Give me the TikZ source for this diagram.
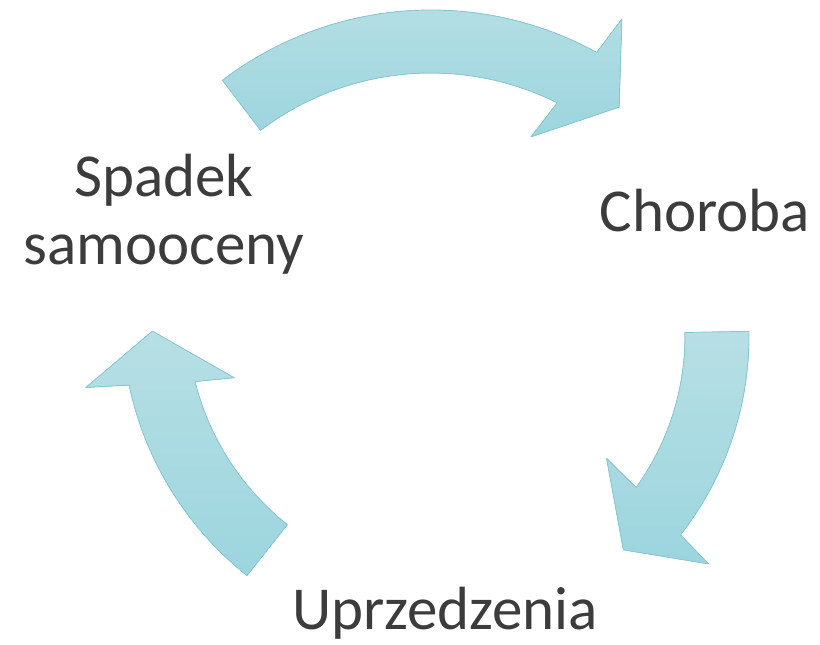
\documentclass[tikz,border=0pt]{standalone}
\usepackage{fontspec}
\setmainfont{Carlito}
\usetikzlibrary{calc}
\definecolor{cyclelight}{HTML}{B7DFE5}
\definecolor{cycledark}{HTML}{9CD5DE}
\definecolor{cycleedge}{HTML}{86CAD5}
\definecolor{cycletext}{HTML}{3C3C3C}
\tikzset{
	arrowfill/.style={draw=cycleedge, line width=0.8pt, top color=cyclelight, bottom color=cycledark, line join=round},
	steptext/.style={text=cycletext, font=\fontsize{61}{68}\selectfont, inner sep=0pt, align=center}
}

\begin{document}
\begin{tikzpicture}[x=1pt, y=1pt]
		%%%%% START %%%%%
		\useasboundingbox (0, 0) rectangle (820, 645);
		
		\coordinate (c1) at (431, 290);
		\coordinate (c2) at (426, 309);
		\coordinate (c3) at (452, 328);
		
		% top arrow
		\filldraw[arrowfill] ($(c1)+(127.2:345)$) arc (127.2:61.3:345) -- ($(c1)+(60.4:386.5)$) -- ($(c1)+(52.8:311.2)$) -- ($(c1)+(65.4:239.8)$) -- ($(c1)+(63.4:282)$) arc (63.4:127.2:282) -- cycle;
		
		% right arrow
		\filldraw[arrowfill] ($(c2)+(0.8:323)$) arc (0.8:-38:323) -- ($(c2)+(-38.9:363)$) -- ($(c2)+(-47.3:291)$) -- ($(c2)+(-34.1:218)$) -- ($(c2)+(-35.8:259)$) arc (-35.8:0.8:259) -- cycle;
		
		% left arrow
		\filldraw[arrowfill] ($(c3)+(231.6:330)$) arc (231.6:191.9:330) -- ($(c3)+(190.9:373)$) -- ($(c3)+(182.7:300)$) -- ($(c3)+(195.6:226)$) -- ($(c3)+(194.1:265)$) arc (194.1:231.6:265) -- cycle;
		
		% base of a two line node is the last line
		\node[steptext, anchor=base] (spadek) at (164, 380) {Spadek\\samooceny};
		\node[steptext, anchor=base] (choroba) at (705, 413) {Choroba};
		\node[steptext, anchor=base] (uprzedzenia) at (445, 15.5) {Uprzedzenia};
		
		%%%%% END %%%%%
	\end{tikzpicture}
\end{document}
